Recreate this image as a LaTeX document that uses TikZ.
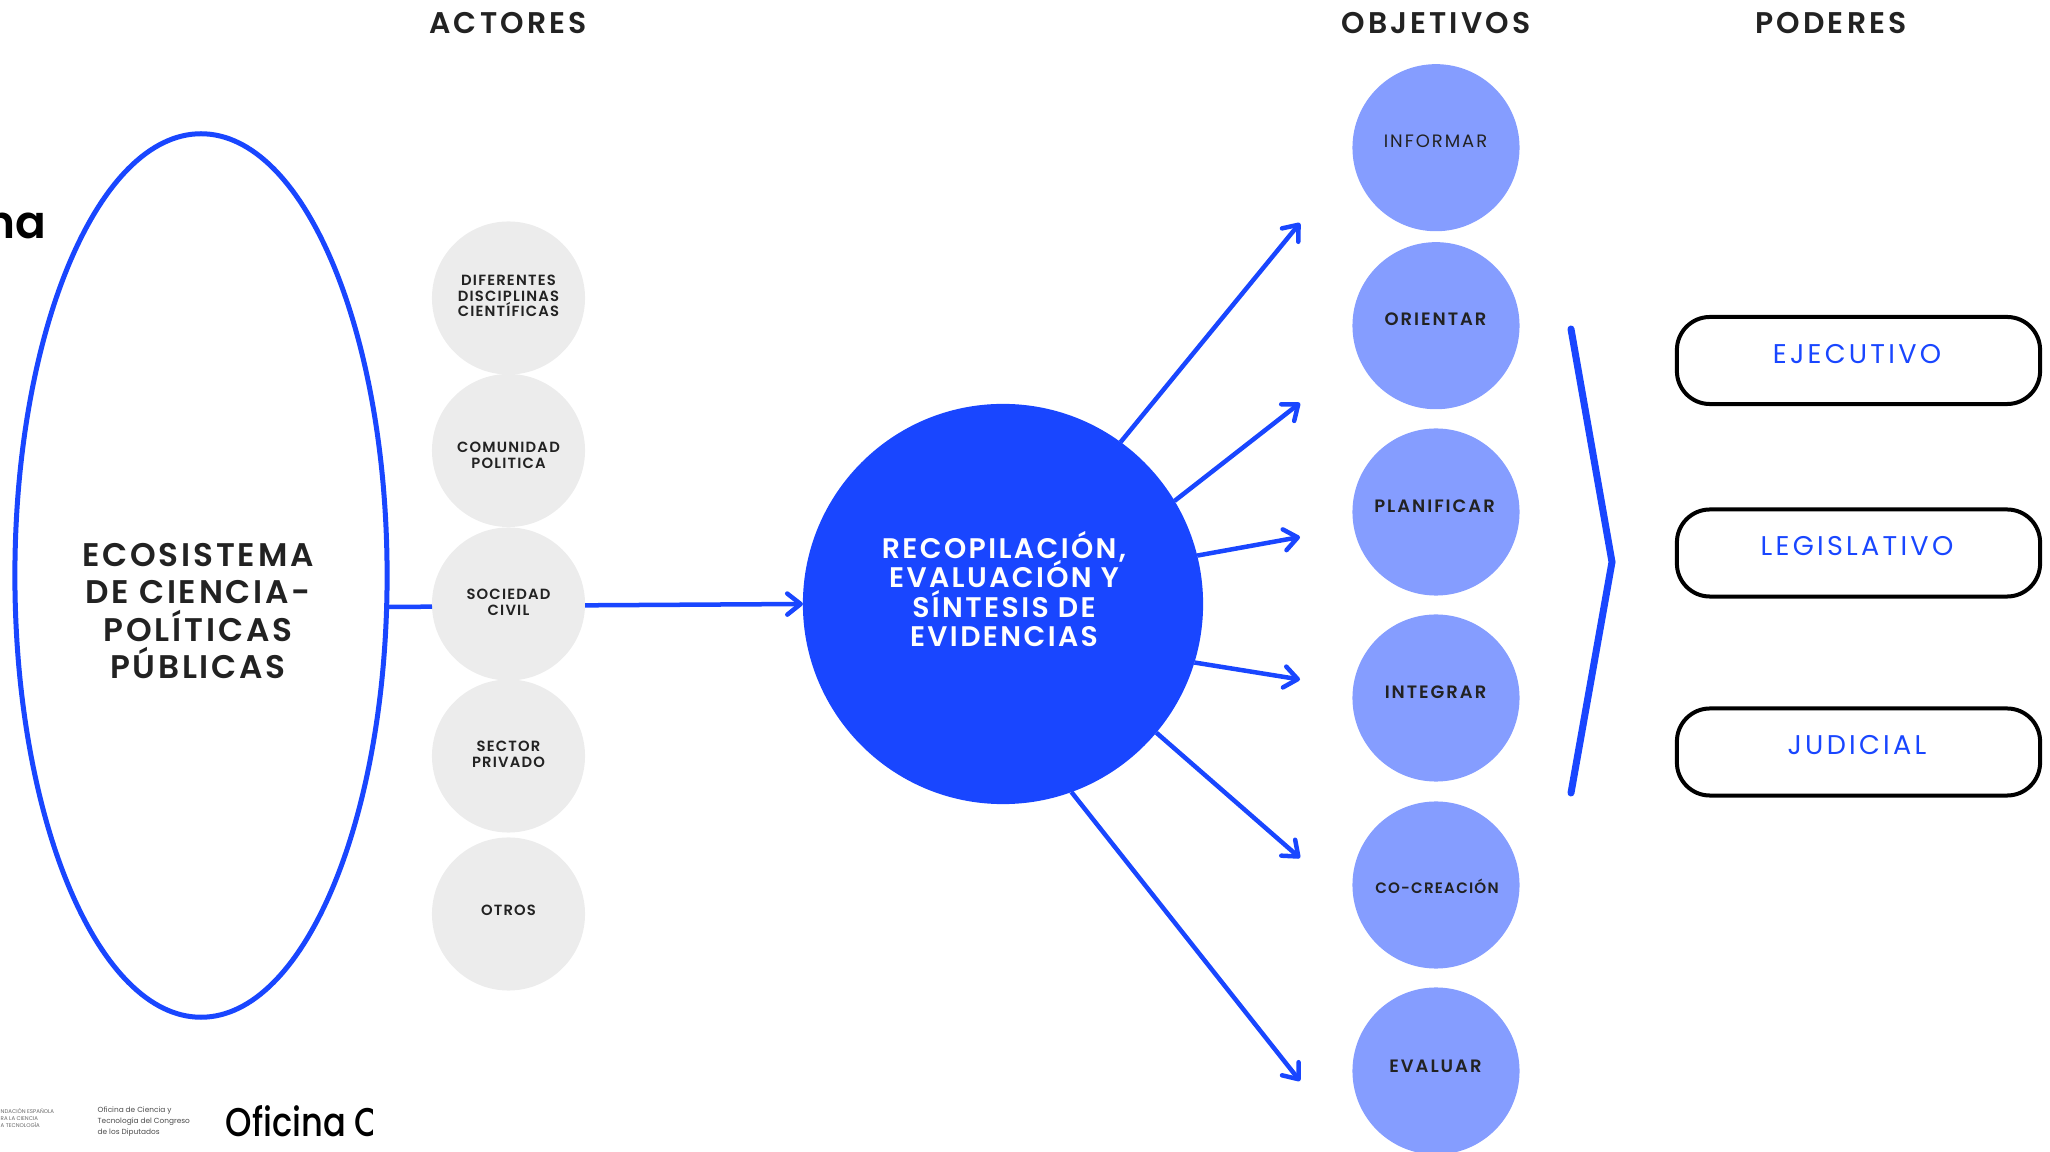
\documentclass[tikz,border=0pt]{standalone}
\usepackage{fontspec}
\usetikzlibrary{arrows.meta,shapes.geometric}
\setmainfont{Poppins}
\newfontfamily\headfont[LetterSpace=10.5]{Poppins SemiBold}
\newfontfamily\bigfont[LetterSpace=8.5]{Poppins SemiBold}
\newfontfamily\smallfont[LetterSpace=8]{Poppins SemiBold}
\newfontfamily\goalfont[LetterSpace=11]{Poppins SemiBold}
\newfontfamily\lightgoalfont[LetterSpace=11]{Poppins}
\newfontfamily\powerfont[LetterSpace=12]{Poppins}
\newfontfamily\logofont[FakeStretch=0.84]{Poppins Medium}
\newfontfamily\stubfont{Poppins SemiBold}
\setlength{\normallineskiplimit}{-5pt}
\setlength{\lineskiplimit}{-5pt}
\definecolor{mainblue}{HTML}{1946FF}
\definecolor{softblue}{HTML}{859DFF}
\definecolor{softgrey}{HTML}{ECECEC}
\definecolor{darktext}{HTML}{222222}
\tikzset{
	actor/.style={draw=none,circle,fill=softgrey,inner sep=0,outer sep=0,minimum size=1.53cm},
	goal/.style={draw=none,circle,fill=softblue,inner sep=0,outer sep=0,minimum size=1.67cm},
	power/.style={draw=black,rounded corners=0.33cm,line width=0.04cm,inner sep=0,outer sep=0,minimum width=3.63cm,minimum height=0.87cm},
	flow/.style={draw=mainblue,line width=0.045cm,-{Straight Barb[length=3.8pt,width=6pt,round]}},
	headtext/.style={text=darktext,font=\headfont\fontsize{8.5}{10}\selectfont},
	actortext/.style={text=darktext,align=center,font=\smallfont\fontsize{4.2}{4.5}\selectfont},
	goaltext/.style={text=darktext,font=\goalfont\fontsize{5.1}{6}\selectfont},
	powertext/.style={text=mainblue,font=\powerfont\fontsize{7.7}{9}\selectfont},
}
\begin{document}
\begin{tikzpicture}[x=0.01cm,y=-0.01cm]
	\useasboundingbox (0,0) rectangle (2050,1152);
	% column titles
	\node[headtext] (actores) at (508,23) {ACTORES};
	\node[headtext] (objetivos) at (1436,23) {OBJETIVOS};
	\node[headtext] (poderes) at (1831,23) {PODERES};
	% left side
	\node[draw=mainblue,ellipse,line width=0.05cm,inner sep=0,outer sep=0,minimum width=3.72cm,minimum height=8.83cm] (ecosistema) at (201,575.5) {};
	\node[text=darktext,align=center,font=\bigfont\fontsize{9.3}{10.7}\selectfont] (ecotext) at (198,611) {ECOSISTEMA\\DE CIENCIA-\\POLÍTICAS\\PÚBLICAS};
	\node[anchor=base east,inner sep=0,text=black,font=\stubfont\fontsize{12.9}{14}\selectfont] (fragment) at (46.5,239) {na};
	% actors
	\node[actor] (disciplinas) at (508.5,298) {};
	\node[actor] (comunidad) at (508.5,450.5) {};
	\node[actor] (sociedad) at (508.5,604) {};
	\node[actor] (sector) at (508.5,756) {};
	\node[actor] (otros) at (508.5,914) {};
	\node[actortext] (disciplinastext) at (508.5,296) {DIFERENTES\\DISCIPLINAS\\CIENTÍFICAS};
	\node[actortext] (comunidadtext) at (508.5,455) {COMUNIDAD\\POLITICA};
	\node[actortext] (sociedadtext) at (508.5,602) {SOCIEDAD\\CIVIL};
	\node[actortext] (sectortext) at (508.5,754) {SECTOR\\PRIVADO};
	\node[actortext] (otrostext) at (508.5,910) {OTROS};
	% centre
	\node[draw=none,circle,fill=mainblue,inner sep=0,outer sep=0,minimum size=4cm] (hub) at (1003,604) {};
	\node[text=white,align=center,font=\bigfont\fontsize{8.05}{8.35}\selectfont] (hubtext) at (1004,589) {RECOPILACIÓN,\\EVALUACIÓN Y\\SÍNTESIS DE\\EVIDENCIAS};
	\coordinate (ecoout) at (388,607);
	\draw[draw=mainblue,line width=0.045cm] (ecoout) -- (sociedad.182);
	\draw[flow] (sociedad.-1) -- (hub.west);
	% goals
	\node[goal] (informar) at (1436,147.7) {};
	\node[goal] (orientar) at (1436,325.7) {};
	\node[goal] (planificar) at (1436,512) {};
	\node[goal] (integrar) at (1436,698) {};
	\node[goal] (cocreacion) at (1436,885) {};
	\node[goal] (evaluar) at (1436,1071) {};
	\node[goaltext,font=\lightgoalfont\fontsize{5.1}{6}\selectfont] (informartext) at (1435.5,141) {INFORMAR};
	\node[goaltext] (orientartext) at (1435.5,319.5) {ORIENTAR};
	\node[goaltext] (planificartext) at (1434.5,506.5) {PLANIFICAR};
	\node[goaltext] (integrartext) at (1435.5,692.5) {INTEGRAR};
	\node[goaltext,font=\smallfont\fontsize{4.3}{6}\selectfont] (cocreaciontext) at (1437,886) {CO-CREACIÓN};
	\node[goaltext] (evaluartext) at (1435.5,1066.5) {EVALUAR};
	% arrow ends
	\coordinate (tipa) at (1300,223);
	\coordinate (tipb) at (1300,403);
	\coordinate (tipc) at (1300,537);
	\coordinate (tipd) at (1300,679.5);
	\coordinate (tipe) at (1300,858);
	\coordinate (tipf) at (1300,1081);
	\draw[flow] (hub.54.3) -- (tipa);
	\draw[flow] (hub.31.8) -- (tipb);
	\draw[flow] (hub.14.1) -- (tipc);
	\draw[flow] (hub.-17.4) -- (tipd);
	\draw[flow] (hub.-40) -- (tipe);
	\draw[flow] (hub.-70.3) -- (tipf);
	% bracket
	\coordinate (brackettop) at (1571,329);
	\coordinate (bracketmid) at (1612,562);
	\coordinate (bracketlow) at (1571,793);
	\draw[mainblue,line width=0.07cm,line cap=round,line join=miter] (brackettop) -- (bracketmid) -- (bracketlow);
	% powers
	\node[power] (ejecutivo) at (1858.5,360.5) {};
	\node[power] (legislativo) at (1858.5,553) {};
	\node[power] (judicial) at (1858.5,752) {};
	\node[powertext] (ejecutivotext) at (1857,354.5) {EJECUTIVO};
	\node[powertext] (legislativotext) at (1857,546) {LEGISLATIVO};
	\node[powertext] (judicialtext) at (1857,745) {JUDICIAL};
	% footer
	\node[anchor=west,inner sep=0,align=left,text=black!60,font=\fontsize{1.55}{1.9}\selectfont] (fundacion) at (0,1118) {NDACIÓN ESPAÑOLA\\RA LA CIENCIA\\A TECNOLOGÍA};
	\node[anchor=west,inner sep=0,align=left,text=black!70,font=\fontsize{2.1}{3.15}\selectfont] (oficinacongreso) at (97,1122) {Oficina de Ciencia y\\Tecnología del Congreso\\de los Diputados};
	\begin{scope}
		\clip (220,1090) rectangle (372,1150);
		\node[anchor=base west,inner sep=0,text=black,font=\logofont\fontsize{11.4}{13}\selectfont] (oficina) at (225,1136.5) {Oficina C};
	\end{scope}
\end{tikzpicture}
\end{document}
